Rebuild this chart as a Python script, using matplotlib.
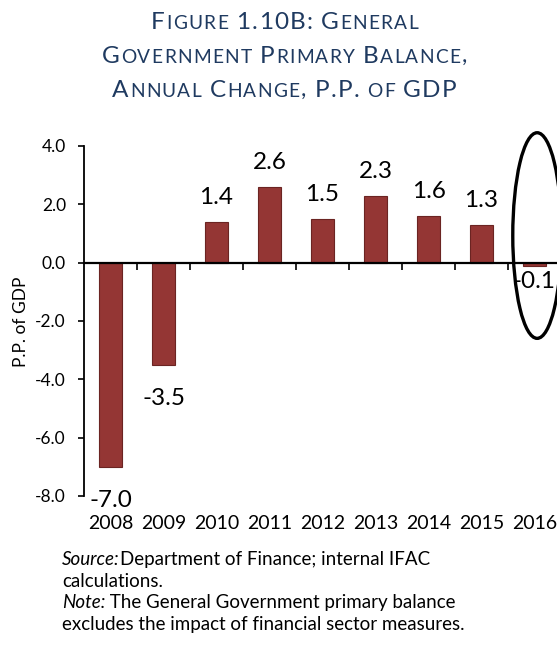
import re
import matplotlib
matplotlib.use("Agg")
import matplotlib.pyplot as plt
from matplotlib.patches import Ellipse
import numpy as np

plt.rcParams['font.family'] = ['Lato', 'DejaVu Sans']

# data
years = ['2008', '2009', '2010', '2011', '2012', '2013', '2014', '2015', '2016']
values = [-7.0, -3.5, 1.4, 2.6, 1.5, 2.3, 1.6, 1.3, -0.1]
y_ticks = [-8.0, -6.0, -4.0, -2.0, 0.0, 2.0, 4.0]
highlight_year = '2016'

title_lines = ['Figure 1.10B: General',
               'Government Primary Balance,',
               'Annual Change, P.P. of GDP']
# (italic lead-in, regular rest)
note_lines = [('Source:', 'Department of Finance; internal IFAC'),
              ('', 'calculations.'),
              ('Note:', ' The General Government primary balance'),
              ('', 'excludes the impact of financial sector measures.')]

BAR = '#943634'
BAR_EDGE = '#6b2422'
TITLE = '#1f3a60'

W, H = 557, 657
fig = plt.figure(figsize=(W / 100, H / 100), dpi=100)
ax = fig.add_axes([84 / W, 1 - 496 / H, 477 / W, 350 / H])
renderer = fig.canvas.get_renderer()


def smallcaps_line(text, y_px, cx_px, big, small, track=1.3, gap=7.0):
    """Draw one line of small caps, centred at cx_px (pixels from left)."""
    items = []
    for word in text.split(' '):
        for run in re.findall(r'[a-z]+|[^a-z]+', word):
            size = small if run.islower() else big
            for ch in run.upper():
                t = fig.text(0, 0, ch, fontsize=size, color=TITLE, va='baseline')
                w = t.get_window_extent(renderer).width
                items.append((t, w + track))
        items.append((None, gap))
    items.pop()
    total = sum(w for _, w in items)
    x = cx_px - total / 2
    for t, w in items:
        if t is not None:
            t.set_position((x / W, 1 - y_px / H))
        x += w


for line, y in zip(title_lines, [29, 63, 97]):
    smallcaps_line(line, y, 285, 17.5, 13.8)

# bars
x = np.arange(len(years))
ax.bar(x, values, width=0.42, color=BAR, edgecolor=BAR_EDGE, linewidth=0.8, zorder=2)

for xi, v in zip(x, values):
    if v >= 0:
        ax.annotate(f'{v:.1f}', (xi, v), xytext=(0, 13), textcoords='offset points',
                    ha='center', va='baseline', fontsize=17.5)
    else:
        # tiny bars get their label tucked right under the axis
        dy = -4 if abs(v) < 0.5 else -17
        ax.annotate(f'{v:.1f}', (xi, v), xytext=(0, dy), textcoords='offset points',
                    ha='center', va='top', fontsize=17.5)

# year labels sit under the plot area
for xi, yr in zip(x, years):
    ax.annotate(yr, (xi, y_ticks[0]), xytext=(0, -14), textcoords='offset points',
                ha='center', va='top', fontsize=14)

ax.set_xlim(-0.5, len(years) - 0.5)
ax.set_ylim(y_ticks[0], y_ticks[-1])
ax.set_yticks(y_ticks)
ax.set_yticklabels([f'{t:.1f}' for t in y_ticks], fontsize=12.5)
ax.tick_params(axis='y', direction='out', length=4, width=1.2, pad=9)

ax.set_xticks(x)
ax.set_xticklabels([])
ax.tick_params(axis='x', which='major', length=0)
ax.set_xticks(x[:-1] + 0.5, minor=True)
ax.tick_params(axis='x', which='minor', direction='out', length=5, width=1.2)

for s in ['top', 'right']:
    ax.spines[s].set_visible(False)
ax.spines['bottom'].set_position(('data', 0))
ax.spines['bottom'].set_linewidth(1.6)
ax.spines['left'].set_linewidth(1.3)
ax.patch.set_visible(False)

fig.text(21 / W, 1 - 322 / H, 'P.P. of GDP', rotation=90, ha='center', va='center',
         fontsize=12.5)

# ellipse around last year
hi = years.index(highlight_year)
ax.add_patch(Ellipse((hi + 0.05, 0.93), 0.92, 7.05, fill=False, edgecolor='black',
                     linewidth=2.4, clip_on=False, zorder=3))

# notes under the chart
for (it, rest), y in zip(note_lines, [565, 587, 608, 630]):
    xp = 62
    if it:
        t = fig.text(xp / W, 1 - y / H, it, fontsize=13.5, style='italic', va='baseline')
        xp += t.get_window_extent(renderer).width
    fig.text(xp / W, 1 - y / H, rest, fontsize=13.5, va='baseline')

fig.savefig('out.png', dpi=100)
